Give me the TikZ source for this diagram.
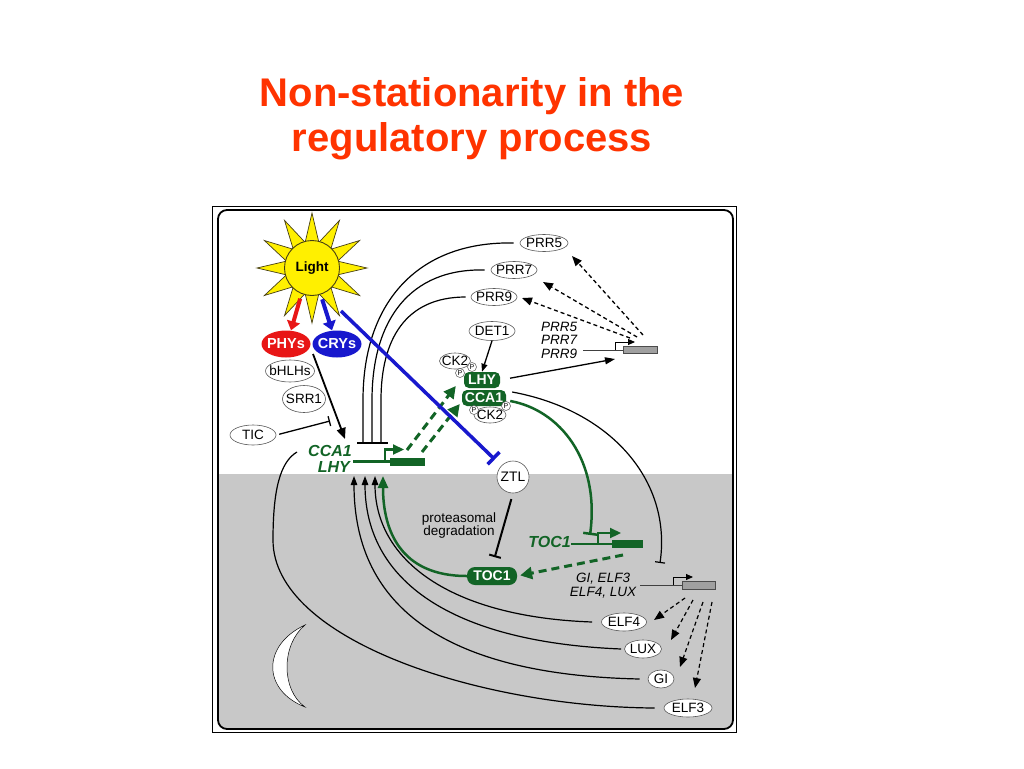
\documentclass[tikz,border=0pt]{standalone}
\usepackage{fontspec}
\setmainfont{Liberation Sans}
\usetikzlibrary{arrows.meta,shapes.geometric}
\definecolor{titlered}{RGB}{255,51,0}
\definecolor{dgreen}{RGB}{18,100,38}
\definecolor{bgray}{RGB}{200,200,200}
\definecolor{sunyellow}{RGB}{255,240,0}
\definecolor{sunline}{RGB}{70,62,20}
\definecolor{phyred}{RGB}{232,22,22}
\definecolor{cryblue}{RGB}{24,24,205}
\definecolor{genegray}{RGB}{160,160,160}
\tikzset{
 ell/.style={ellipse, draw=black!65, line width=0.6pt, fill=white, inner sep=-8pt, font=\fontsize{13.5}{13.5}\selectfont},
 pc/.style={circle, draw=black!65, line width=0.5pt, fill=white, minimum size=9pt, inner sep=0pt, font=\fontsize{7}{7}\selectfont},
 pbox/.style={rectangle, rounded corners=5pt, fill=dgreen, text=white, inner sep=0pt, minimum height=16pt, font=\fontsize{14}{14}\selectfont\bfseries},
 photo/.style={ellipse, inner sep=-8pt, minimum width=49pt, minimum height=27pt, text=white, font=\fontsize{14.5}{14.5}\selectfont\bfseries},
 genetxt/.style={inner sep=0pt, text=dgreen, font=\fontsize{16}{16}\selectfont\bfseries\itshape},
 itxt/.style={inner sep=0pt, align=center, font=\fontsize{13.5}{13.5}\selectfont\itshape},
 blk/.style={line width=1.2pt, -{Triangle[length=9pt,width=6.5pt]}},
 inh/.style={line width=1.2pt, -{Bar[width=10pt]}},
 dsh/.style={line width=1.3pt, dash pattern=on 4pt off 3pt, -{Triangle[length=10pt,width=8pt]}},
 gdsh/.style={dgreen, line width=3pt, dash pattern=on 8pt off 5pt, -{Triangle[length=12pt,width=12pt]}},
 gline/.style={dgreen, line width=2.5pt},
 genebox/.style={fill=genegray, draw=black!70, line width=0.6pt},
 gprom/.style={dgreen, line width=2.2pt, -{Triangle[length=11pt,width=10pt]}},
 bprom/.style={line width=0.9pt, -{Triangle[length=7pt,width=6pt]}},
 thinline/.style={line width=0.8pt, black!75},
}
\begin{document}
\begin{tikzpicture}[x=1pt,y=-1pt]
\useasboundingbox (0,0) rectangle (1024,768);
\fill[white] (0,0) rectangle (1024,768);
% title
\node[anchor=base, inner sep=0pt, text=titlered, font=\fontsize{40}{40}\selectfont\bfseries] (title1) at (472,106) {Non-stationarity in the};
\node[anchor=base, inner sep=0pt, text=titlered, font=\fontsize{40}{40}\selectfont\bfseries] (title2) at (472,151) {regulatory process};
% frame and night background
\draw[line width=0.8pt] (212,206) rectangle (736,732);
\begin{scope}
\clip[rounded corners=9pt] (218,210) rectangle (733,729);
\fill[bgray] (218,474) rectangle (733,729);
\end{scope}
\draw[line width=1.8pt, rounded corners=9pt] (218,210) rectangle (733,729);
% moon
\draw[fill=white, line width=0.5pt] (305,625) .. controls (262,645) and (262,690) .. (305,707) .. controls (281,690) and (281,645) .. (305,625) -- cycle;
% sun
\begin{scope}[shift={(312,268)}]
\draw[fill=sunyellow, draw=sunline, line width=0.7pt] (0:55) \foreach \a in {0,30,...,330} { -- (\a:55) -- ({\a+15}:26.5) } -- cycle;
\end{scope}
\node[circle, fill=sunyellow, draw=sunline, line width=0.9pt, minimum size=55pt, inner sep=0pt, font=\fontsize{13.5}{13.5}\selectfont\bfseries] (sun) at (312,268) {Light};
% nodes
\node[photo, fill=phyred] (phy) at (286,344) {PHYs};
\node[photo, fill=cryblue] (cry) at (337,344) {CRYs};
\node[ell, minimum width=49pt, minimum height=22pt] (bhlh) at (290,371) {bHLHs};
\node[ell, minimum width=43pt, minimum height=27pt] (srr1) at (304,399) {SRR1};
\node[ell, minimum width=46pt, minimum height=20pt] (tic) at (253,435) {TIC};
\node[ell, minimum width=48pt, minimum height=17pt] (prr5) at (544,243) {PRR5};
\node[ell, minimum width=46pt, minimum height=17pt] (prr7) at (514,270) {PRR7};
\node[ell, minimum width=46pt, minimum height=17pt] (prr9) at (494,297) {PRR9};
\node[ell, minimum width=46pt, minimum height=19pt] (det1) at (492,331) {DET1};
\node[ell, minimum width=31pt, minimum height=16pt] (ck2a) at (455,361) {CK2};
\node[ell, minimum width=32pt, minimum height=16pt] (ck2b) at (490,415) {CK2};
\node[pbox, minimum width=36pt] (lhyp) at (482,380) {LHY};
\node[pbox, minimum width=44pt] (ccap) at (484,398) {CCA1};
\node[pc] (pa1) at (472,367) {P};
\node[pc] (pa2) at (460,373) {P};
\node[pc] (pb1) at (506,406) {P};
\node[pc] (pb2) at (474,410) {P};
\node[circle, draw=black!65, line width=0.6pt, fill=white, minimum size=32pt, inner sep=0pt, font=\fontsize{13.8}{13.8}\selectfont] (ztl) at (513,477) {ZTL};
\node[pbox, rounded corners=8pt, minimum width=50pt, minimum height=18pt] (tocp) at (492,576) {TOC1};
\node[inner sep=0pt, align=center, font=\fontsize{13.5}{13}\selectfont] (prot) at (459,526) {proteasomal\\degradation};
\node[ell, minimum width=45pt, minimum height=18pt] (elf4) at (624,622) {ELF4};
\node[ell, minimum width=37pt, minimum height=18pt] (lux) at (643,649) {LUX};
\node[ell, minimum width=26pt, minimum height=18pt] (gi) at (661,679) {GI};
\node[ell, minimum width=48pt, minimum height=18pt] (elf3) at (688,708) {ELF3};
% genes
\node[genetxt, anchor=base east] (ccatxt) at (352,456) {CCA1};
\node[genetxt, anchor=base east] (lhytxt) at (350,472) {LHY};
\draw[gline] (353,461.5) -- (391,461.5);
\fill[dgreen] (390,457.5) rectangle (425,466);
\draw[gprom] (385,461.5) -- (385,449.5) -- (404,449.5);
\node[genetxt, anchor=base east] (toctxt) at (571,547) {TOC1};
\draw[gline] (571,544) -- (613,544);
\fill[dgreen] (612,540) rectangle (643,548);
\draw[gprom] (598,544) -- (598,533) -- (621,533);
\node[itxt, align=left, anchor=north west] (prrtxt) at (541,322) {PRR5\\PRR7\\PRR9};
\draw[thinline] (583,350) -- (623,350);
\draw[genebox] (623,346.5) rectangle (657,353.5);
\draw[bprom] (615,350) -- (615,342) -- (635,342);
\node[itxt] (gitxt) at (603,585.5) {GI, ELF3\\ELF4, LUX};
\draw[thinline] (640,585) -- (682,585);
\draw[genebox] (682,581) rectangle (715,589);
\draw[bprom] (673,585) -- (673,577) -- (693,577);
% coordinates
\coordinate (bstart) at (341,311);
\coordinate (phyout) at (313,354);
\coordinate (ccatip) at (345,439);
\coordinate (ticbar) at (330,421);
\coordinate (prrb1) at (363,443);
\coordinate (prrb2) at (372,443);
\coordinate (prrb3) at (381,443);
\coordinate (srcA) at (643,335);
\coordinate (srcB) at (637,337);
\coordinate (srcC) at (630,338);
\coordinate (gsA) at (407,450);
\coordinate (gsB) at (422,452);
\coordinate (tocbar) at (590,535);
\coordinate (gibar) at (660,563);
\coordinate (tocsrc) at (623,555);
\coordinate (ta1) at (375,476);
\coordinate (ta2) at (365,476);
\coordinate (ta3) at (354,476);
\coordinate (tg) at (383,476);
\coordinate (elf3end) at (297,452);
\coordinate (esA) at (685,598);
\coordinate (esB) at (693,600);
\coordinate (esC) at (703,602);
\coordinate (esD) at (712,602);
% light inputs
\draw[phyred, line width=4pt, -{Triangle[length=9pt,width=13pt]}, shorten <=5pt] (sun.-112) -- ([xshift=5pt]phy.north);
\draw[cryblue, line width=4pt, -{Triangle[length=9pt,width=13pt]}, shorten <=5pt] (sun.-72) -- ([xshift=-5pt]cry.north);
\draw[line width=1.8pt, -{Triangle[length=11pt,width=9pt]}] (phyout) -- (ccatip);
\draw[inh, line width=1.3pt, shorten <=3pt] (tic.east) -- (ticbar);
% PRR repression of CCA1/LHY
\draw[line width=1.2pt] ([xshift=-6pt]prr5.west) .. controls (420,241) and (363,300) .. (363,400) -- (prrb1);
\draw[line width=1.2pt] ([xshift=-6pt]prr7.west) .. controls (410,268) and (372,320) .. (372,400) -- (prrb2);
\draw[line width=1.2pt] ([xshift=-5pt]prr9.west) .. controls (405,297) and (381,340) .. (381,400) -- (prrb3);
\draw[line width=1.3pt] ([xshift=-6pt]prrb1) -- ([xshift=7pt]prrb3);
% PRR gene products
\draw[dsh] (srcA) -- ([shift={(28pt,-13pt)}]prr5.center);
\draw[dsh] (srcB) -- ([shift={(29pt,-12pt)}]prr7.center);
\draw[dsh] (srcC) -- ([shift={(28pt,-1pt)}]prr9.center);
% DET1, LHY -> PRR gene
\draw[line width=1.3pt, -{Triangle[length=8pt,width=6pt]}] (det1.south) -- (lhyp.north);
\draw[line width=1.3pt, -{Triangle[length=10pt,width=7pt]}, shorten <=10pt] (lhyp.east) -- (615,359);
% CCA1/LHY translation
\draw[gdsh] (gsA) -- ([shift={(-8pt,-6pt)}]lhyp.west);
\draw[gdsh] (gsB) -- ([shift={(-2pt,-6pt)}]ccap.west);
% CCA1 -> TOC1, GI genes
\draw[gline, -{Bar[width=14pt]}] ([shift={(4pt,-3pt)}]ccap.east) .. controls (560,410) and (600,460) .. (tocbar);
\draw[inh] ([shift={(6pt,6pt)}]ccap.east) .. controls (610,410) and (672,480) .. (gibar);
% blue CRY -> ZTL
\draw[cryblue, line width=3.5pt, -{Bar[width=17pt]}, shorten >=9pt] (bstart) -- (ztl);
% ZTL -> TOC1
\draw[line width=2pt, -{Bar[width=12pt]}, shorten <=6pt, shorten >=10pt] (ztl.south) -- (tocp.north);
% TOC1
\draw[gdsh, shorten >=3pt] (tocsrc) -- (tocp.east);
\draw[gline, -{Triangle[length=12pt,width=10pt]}] (tocp.west) .. controls (400,576) and (383,530) .. (tg);
% evening genes
\draw[blk] ([xshift=-9pt]elf4.west) .. controls (450,617) and (375,560) .. (ta1);
\draw[blk] ([xshift=-3pt]lux.west) .. controls (450,642) and (365,580) .. (ta2);
\draw[blk] ([xshift=-8pt]gi.west) .. controls (450,675) and (354,610) .. (ta3);
\draw[line width=1.2pt] ([xshift=-9pt]elf3.west) .. controls (480,707) and (273,640) .. (273,540) .. controls (273,490) and (280,462) .. (elf3end);
\draw[dsh, line width=1.2pt] (esA) -- ([shift={(30pt,2pt)}]elf4.center);
\draw[dsh, line width=1.2pt] (esB) -- ([shift={(28pt,9pt)}]lux.center);
\draw[dsh, line width=1.2pt] (esC) -- ([shift={(19pt,12pt)}]gi.center);
\draw[dsh, line width=1.2pt] (esD) -- ([shift={(7pt,20pt)}]elf3.center);
\end{tikzpicture}
\end{document}
